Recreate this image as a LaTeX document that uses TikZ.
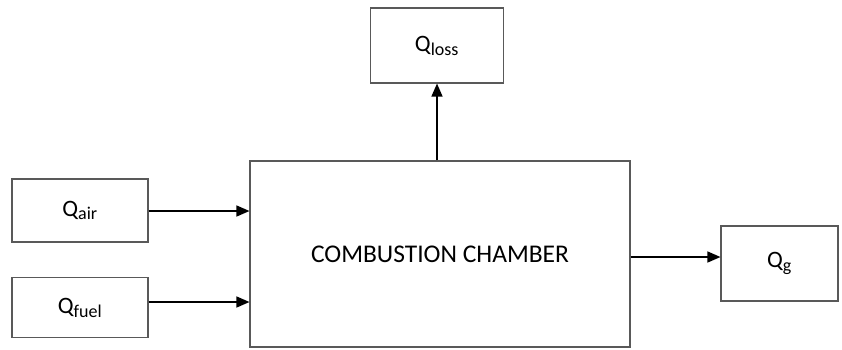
\documentclass[tikz,border=0pt]{standalone}
\usepackage{fontspec}
\setmainfont{Carlito}
\usetikzlibrary{arrows.meta}
\newcommand{\qsub}[1]{Q\textsubscript{\fontsize{18}{21}\selectfont #1}}
\begin{document}
\begin{tikzpicture}[x=1pt,y=-1pt,
  blk/.style={draw=black!65, line width=1.1pt, inner sep=0pt, font=\fontsize{23.5}{27}\selectfont},
  flow/.style={-{Triangle[length=13pt,width=11pt]}, line width=1.4pt}]
\useasboundingbox (0,0) rectangle (842,349);
\node[blk, minimum width=380pt, minimum height=186pt] (cc) at (440,254) {\fontsize{25.5}{30}\selectfont COMBUSTION CHAMBER};
\node[blk, minimum width=136pt, minimum height=63pt] (air) at (80,210.5) {\qsub{air}};
\node[blk, minimum width=136pt, minimum height=60pt] (fuel) at (80,307.5) {\qsub{fuel}};
\node[blk, minimum width=133pt, minimum height=75pt] (loss) at (437,45.5) {\qsub{loss}};
\node[blk, minimum width=117pt, minimum height=75pt] (g) at (779.5,263.5) {\qsub{g}};
\draw[flow] (air.east |- 0,211) -- (cc.west |- 0,211);
\draw[flow] (fuel.east |- 0,302) -- (cc.west |- 0,302);
\draw[flow] (loss.south |- cc.north) -- (loss.south);
\draw[flow] (cc.east |- 0,257) -- (g.west |- 0,257);
\end{tikzpicture}
\end{document}
